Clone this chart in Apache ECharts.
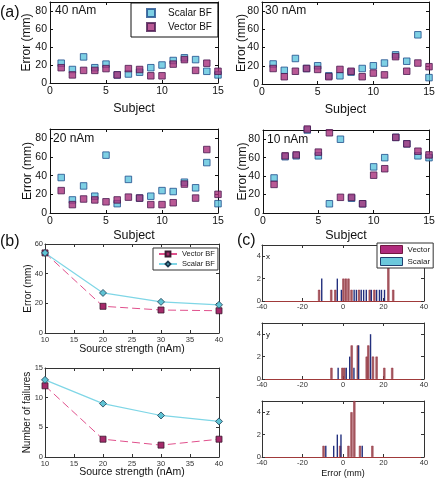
<!DOCTYPE html>
<html><head><meta charset="utf-8">
<script src="https://cdn.jsdelivr.net/npm/echarts@6/dist/echarts.min.js"></script>
<style>html,body{margin:0;padding:0;background:#fff}#c{width:435px;height:480px}</style>
</head><body><div id="c"></div>
<script>
const FONT = 'Liberation Sans, Arial, Helvetica, sans-serif';

// (a) localisation error per subject (mm)
const subjects = [1,2,3,4,5,6,7,8,9,10,11,12,13,14,15];
const scalar40 = [22,15,29,17,21,9,10,12,17,20,25,28,26,13,9];
const vector40 = [17,9,14,14,16,9,16,15,8,8,21,26,14,22,13];
const scalar30 = [22,15,28,17,20,9,9,13,17,20,23,32,25,54,7];
const vector30 = [17,8,14,17,16,8,16,14,8,12,10,30,14,23,19];
const scalar20 = [38,14,29,18,62,10,36,16,18,24,23,33,27,54,10];
const vector20 = [24,9,15,14,12,14,17,16,9,9,11,31,16,68,20];
const scalar10 = [38,61,62,90,62,10,80,16,10,50,60,82,75,62,60];
const vector10 = [31,62,63,91,66,87,17,17,10,41,48,82,75,67,63];

// (b) summary vs source strength
const strengths = [10,20,30,40];
const errorVector = [54,18,15.5,15];
const errorScalar = [54,27,21,19];
const failVector = [12,3,2,3];
const failScalar = [13,9,7,6];

// (c) histograms of error components: [error (mm), count]
const histXVector = [[-12,1],[-6,1],[-4,1],[0,2],[1.2,2],[2.5,2],[4,1],[7.7,1],[13,1],[15.3,1],[22.2,4],[24.6,1]];
const histXScalar = [[-10.5,2],[-2.8,2],[-0.8,1],[5.5,1],[6.6,1],[9,1],[10.2,1],[11.5,1],[14,1],[16.6,1],[18,1],[19,1],[20.5,1]];
const histYVector = [[-5.9,1],[-0.5,1],[0.5,1],[4.1,3],[7.1,3],[11.5,2],[12.3,3],[14.6,2],[16.4,2],[20.2,1],[24.1,1]];
const histYScalar = [[-2.4,1],[1.6,1],[3.3,2],[5.4,1],[7.7,3],[13.6,4]];
const histZVector = [[-9.8,1],[-1.6,1],[2.5,1],[4,4],[5.4,5],[8.2,1],[14.3,1]];
const histZScalar = [[-8.5,1],[-4.6,1],[-2.8,2],[-1,2],[9.5,1]];

const grids = [
  [50,2,168,81],[262,2,167,82],[50,129,168,84],[263,130,166,83],
  [45,244,174,89],[45,368,174,89],
  [262,245,162,56],[262,323,162,56],[262,401,162,56]
];
const xAxis = [], yAxis = [];
function addAxes(gi, xc, yc, st) {
  const tick = {inside:true, length:st.tick, lineStyle:{color:st.line}};
  const common = {gridIndex:gi, type:'value', splitLine:{show:false}, axisTick:tick, nameMoveOverlap:false};
  xAxis.push(Object.assign({}, common, {position:'bottom', min:xc.min, max:xc.max, interval:xc.interval,
    axisLine:{onZero:false, lineStyle:{color:xc.lineColor||st.line, width:1}},
    axisLabel:{fontSize:st.fs, color:st.lc, margin:st.xm, fontFamily:FONT},
    name:xc.name, nameLocation:'middle', nameGap:xc.gap,
    nameTextStyle:{fontSize:xc.nfs, color:'#111', fontFamily:FONT}}));
  xAxis.push(Object.assign({}, common, {position:'top', min:xc.min, max:xc.max, interval:xc.interval,
    axisLine:{onZero:false, lineStyle:{color:st.line, width:1}}, axisLabel:{show:false}}));
  yAxis.push(Object.assign({}, common, {position:'left', min:yc.min, max:yc.max, interval:yc.interval,
    axisLine:{onZero:false, lineStyle:{color:st.line, width:1}},
    axisLabel:{fontSize:st.fs, color:st.lc, margin:st.ym, showMaxLabel:yc.showMax, fontFamily:FONT},
    name:yc.name, nameLocation:'middle', nameGap:yc.gap,
    nameTextStyle:{fontSize:yc.nfs, color:'#111', fontFamily:FONT}}));
  yAxis.push(Object.assign({}, common, {position:'right', min:yc.min, max:yc.max, interval:yc.interval,
    axisLine:{onZero:false, lineStyle:{color:st.line, width:1}}, axisLabel:{show:false}}));
}
const stA = {tick:3, line:'#111', fs:10.5, lc:'#111', xm:3, ym:3};
const stB = {tick:3, line:'#333', fs:7.5, lc:'#333', xm:3, ym:2};
const stC = {tick:3, line:'#333', fs:7.5, lc:'#333', xm:2, ym:1};
const xATop = {min:0, max:15, interval:5, name:'Subject', gap:19, nfs:12.5};
const xABot = {min:0, max:15, interval:5, name:'Subject', gap:16, nfs:12.5};
addAxes(0, xATop, {min:0,max:90,interval:20,showMax:false,name:'Error (mm)',gap:17,nfs:12}, stA);
addAxes(1, xATop, {min:0,max:90,interval:20,showMax:false,name:'Error (mm)',gap:14,nfs:12}, stA);
addAxes(2, xABot, {min:0,max:90,interval:20,showMax:false,name:'Error (mm)',gap:16,nfs:12}, stA);
addAxes(3, xABot, {min:0,max:90,interval:20,showMax:false,name:'Error (mm)',gap:14,nfs:12}, stA);
addAxes(4, {min:10,max:40,interval:5,name:'Source strength (nAm)',gap:11,nfs:10.5},
  {min:0,max:60,interval:20,showMax:true,name:'Error (mm)',gap:12,nfs:10}, stB);
addAxes(5, {min:10,max:40,interval:5,name:'Source strength (nAm)',gap:10,nfs:10.5},
  {min:0,max:15,interval:5,showMax:true,name:'Number of failures',gap:13,nfs:10}, stB);
const xC = {min:-40,max:40,interval:20,lineColor:'#a03a3a'};
addAxes(6, xC, {min:0,max:5,interval:2,showMax:false}, stC);
addAxes(7, xC, {min:0,max:5,interval:2,showMax:false}, stC);
addAxes(8, Object.assign({}, xC, {name:'Error (mm)',gap:12,nfs:9}), {min:0,max:5,interval:2,showMax:false}, stC);

const cyanStyle = {color:'#5ec4dd', borderColor:'#1f4e8c', borderWidth:1};
const magStyle = {color:'#a82f7a', borderColor:'#4a1a50', borderWidth:1};
const series = [];
const panels = [[scalar40,vector40],[scalar30,vector30],[scalar20,vector20],[scalar10,vector10]];
panels.forEach((p,gi)=>{
  series.push({type:'scatter', name:'Scalar BF', xAxisIndex:2*gi, yAxisIndex:2*gi, symbol:'rect', symbolSize:6.5,
    clip:false, itemStyle:cyanStyle, data:subjects.map((s,i)=>[s,p[0][i]])});
  series.push({type:'scatter', name:'Vector BF', xAxisIndex:2*gi, yAxisIndex:2*gi, symbol:'rect', symbolSize:6.5,
    clip:false, itemStyle:magStyle, data:subjects.map((s,i)=>[s,p[1][i]])});
});
function lineSeries(gi, name, arr, isVec){
  return {type:'line', name:name, xAxisIndex:2*gi, yAxisIndex:2*gi,
    symbol: isVec ? 'rect' : 'diamond', symbolSize: isVec ? 6 : 7,
    lineStyle: isVec ? {color:'#e0508c', width:1, type:[8,4]} : {color:'#7fd6e6', width:1.2},
    itemStyle: isVec ? {color:'#a52a6a', borderColor:'#3a1a30', borderWidth:0.8} : {color:'#5fc3d4', borderColor:'#1a3a50', borderWidth:0.8},
    data: strengths.map((s,i)=>[s,arr[i]])};
}
series.push(lineSeries(4,'Vector BF (b)',errorVector,true));
series.push(lineSeries(4,'Scalar BF (b)',errorScalar,false));
series.push(lineSeries(5,'Vector BF (b)',failVector,true));
series.push(lineSeries(5,'Scalar BF (b)',failScalar,false));
function histSeries(gi, name, data, isVec){
  return {type:'bar', name:name, xAxisIndex:2*gi, yAxisIndex:2*gi, barWidth: isVec ? 2.2 : 1.4, barGap:'-100%',
    itemStyle: isVec ? {color:'#a45e62', borderColor:'#94283a', borderWidth:0.5} : {color:'#23307e'},
    data:data};
}
series.push(histSeries(6,'Vector',histXVector,true));
series.push(histSeries(6,'Scalar',histXScalar,false));
series.push(histSeries(7,'Vector',histYVector,true));
series.push(histSeries(7,'Scalar',histYScalar,false));
series.push(histSeries(8,'Vector',histZVector,true));
series.push(histSeries(8,'Scalar',histZScalar,false));

function txt(x,y,t,fs){ return {type:'text', x:x, y:y, z:100, style:{text:t, fontSize:fs, fontFamily:FONT, fill:'#111', verticalAlign:'middle', align:'left'}}; }

const option = {
  animation:false,
  textStyle:{fontFamily:FONT},
  grid: grids.map(g=>({left:g[0], top:g[1], width:g[2], height:g[3], containLabel:false, outerBoundsMode:'none'})),
  xAxis:xAxis, yAxis:yAxis, series:series,
  legend:[
    {data:['Scalar BF','Vector BF'], orient:'vertical', left:131, top:3, selectedMode:false,
     backgroundColor:'#fff', borderColor:'#111', borderWidth:1, borderRadius:0, padding:[5,6,5,15],
     itemWidth:8, itemHeight:8, itemGap:4, textStyle:{fontSize:10, color:'#111', padding:[0,0,0,8]}},
    {data:['Vector BF (b)','Scalar BF (b)'], orient:'vertical', left:153, top:248, selectedMode:false,
     formatter:n=>n.replace(' (b)',''),
     backgroundColor:'#fff', borderColor:'#333', borderWidth:1, borderRadius:0, padding:[2,3,2,5],
     itemWidth:18, itemHeight:6, itemGap:2, textStyle:{fontSize:7.5, color:'#222'}},
    {data:[{name:'Vector', itemStyle:{color:'#b02a7c', borderColor:'#701840', borderWidth:1}},
           {name:'Scalar', itemStyle:{color:'#6cc8dc', borderColor:'#204070', borderWidth:1}}],
     icon:'rect', orient:'vertical', left:377, top:243, selectedMode:false,
     backgroundColor:'#fff', borderColor:'#333', borderWidth:1, borderRadius:0, padding:[2,3,2,3],
     itemWidth:22, itemHeight:8, itemGap:3, textStyle:{fontSize:8, color:'#222'}}
  ],
  graphic:[
    txt(0,13,'(a)',16), txt(0,242,'(b)',16), txt(237,241,'(c)',16),
    txt(55,11,'40 nAm',12), txt(265,11,'30 nAm',12), txt(53,139,'20 nAm',12), txt(267,140,'10 nAm',12),
    txt(266,257,'x',8), txt(266,335,'y',8), txt(266,413,'z',8)
  ]
};
const chart = echarts.init(document.getElementById('c'), null, {renderer:'canvas'});
chart.setOption(option);
</script></body></html>
